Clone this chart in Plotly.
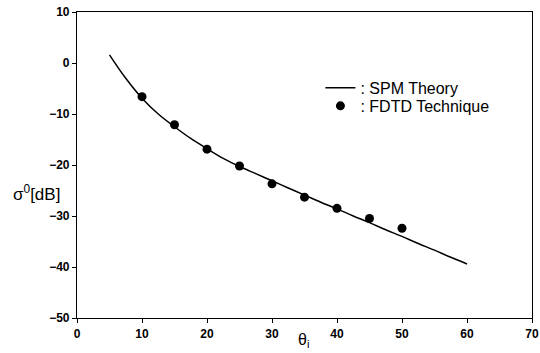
import plotly.graph_objects as go

# SPM theory curve
spm_theta = [5, 7.5, 10, 12.5, 15, 17.5, 20, 22.5, 25, 27.5, 30, 32.5, 35, 37.5,
             40, 42.5, 45, 47.5, 50, 52.5, 55, 57.5, 60]
spm_sigma = [1.6, -3.0, -6.9, -10.0, -12.5, -14.8, -16.8, -18.7, -20.3, -21.7, -23.1,
             -24.5, -25.9, -27.3, -28.6, -30.0, -31.3, -32.7, -34.0, -35.4, -36.7,
             -38.1, -39.4]

# FDTD points
fdtd_theta = [10, 15, 20, 25, 30, 35, 40, 45, 50]
fdtd_sigma = [-6.6, -12.1, -16.9, -20.2, -23.7, -26.3, -28.5, -30.5, -32.4]

x_ticks = [0, 10, 20, 30, 40, 50, 60, 70]
y_ticks = [10, 0, -10, -20, -30, -40, -50]

fig = go.Figure()
fig.add_trace(go.Scatter(x=spm_theta, y=spm_sigma, mode="lines",
                         line=dict(color="black", width=1.5, shape="spline"),
                         name=": SPM Theory", legend="legend"))
fig.add_trace(go.Scatter(x=fdtd_theta, y=fdtd_sigma, mode="markers",
                         marker=dict(color="black", size=9),
                         name=": FDTD Technique", legend="legend2"))

fam = "Liberation Sans, Arial"
tfont = dict(family=fam, size=12, color="black")
lfont = dict(family=fam, size=16, color="black")
fig.update_layout(
    width=540, height=353,
    margin=dict(l=77, r=8, t=12, b=35),
    paper_bgcolor="white", plot_bgcolor="white",
    font=tfont,
    showlegend=True,
    legend=dict(x=0.535, y=0.752, xanchor="left", yanchor="middle",
                bgcolor="rgba(0,0,0,0)", font=lfont),
    legend2=dict(x=0.535, y=0.693, xanchor="left", yanchor="middle",
                 bgcolor="rgba(0,0,0,0)", font=lfont),
    xaxis=dict(range=[0, 70], tickvals=x_ticks, showgrid=False, zeroline=False,
               showline=True, linecolor="black", linewidth=1.2, mirror=True,
               ticks="outside", ticklen=4, tickcolor="black", automargin=False,
               tickfont=dict(family=fam, size=12, color="black", weight="bold")),
    yaxis=dict(range=[-50, 10], tickvals=y_ticks, showgrid=False, zeroline=False,
               showline=True, linecolor="black", linewidth=1.2, mirror=True,
               ticks="outside", ticklen=4, tickcolor="black", automargin=False,
               tickfont=dict(family=fam, size=12, color="black", weight="bold")),
    annotations=[
        dict(text="σ<sup>0</sup>[dB]", x=-0.09, y=0.41, xref="paper", yref="paper",
             xanchor="center", yanchor="middle", showarrow=False,
             font=dict(family=fam, size=17, color="black")),
        dict(text="θ<sub>i</sub>", x=0.497, y=-0.112, xref="paper", yref="paper",
             xanchor="center", yanchor="bottom", showarrow=False,
             font=dict(family=fam, size=16, color="black")),
    ],
)
fig.write_html("out.html", config={"displayModeBar": False},
               post_script="document.body.style.margin='0px';")
